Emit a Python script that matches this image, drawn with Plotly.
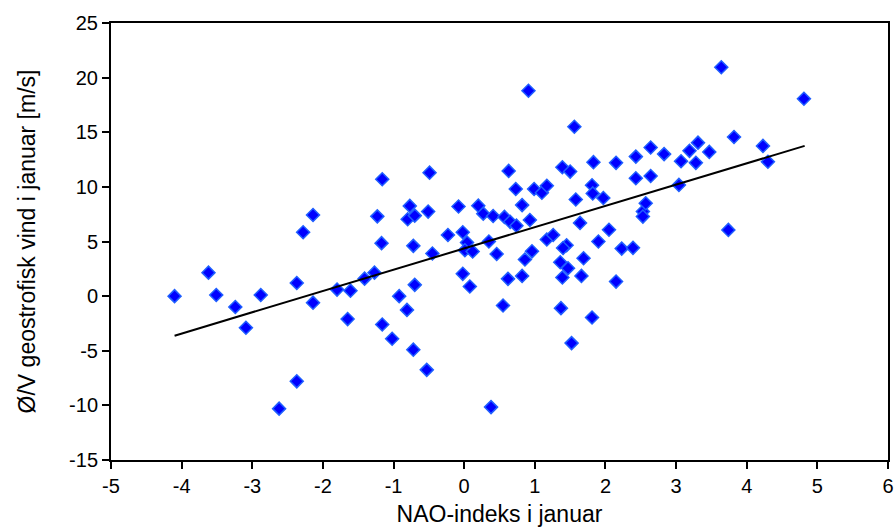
import plotly.graph_objects as go

# NAO index (x) and E/W geostrophic wind (y) for January
nao_x = [-4.10, -3.62, -3.51, -3.24, -3.09, -2.88, -2.62, -2.37, -2.37, -2.28,
         -2.14, -2.14, -1.80, -1.65, -1.61, -1.41, -1.27, -1.23, -1.17, -1.16,
         -1.16, -1.02, -0.92, -0.81, -0.77, -0.80, -0.70, -0.72, -0.70, -0.72,
         -0.51, -0.49, -0.53, -0.45, -0.23, -0.08, -0.02, 0.04, 0.01, 0.12,
         -0.02, 0.08, 0.20, 0.27, 0.41, 0.57, 0.65, 0.74, 0.35, 0.46,
         0.38, 0.55, 0.62, 0.63, 0.73, 0.82, 0.93, 0.82, 0.86, 0.96,
         0.91, 0.99, 1.10, 1.17, 1.17, 1.26, 1.39, 1.50, 1.56, 1.37,
         1.36, 1.47, 1.39, 1.45, 1.40, 1.52, 1.58, 1.64, 1.69, 1.66,
         1.81, 1.81, 1.82, 1.83, 1.97, 1.90, 2.05, 2.15, 2.15, 2.23,
         2.39, 2.43, 2.43, 2.53, 2.53, 2.57, 2.64, 2.64, 2.83, 3.04,
         3.07, 3.19, 3.28, 3.31, 3.47, 3.64, 3.74, 3.82, 4.23, 4.30,
         4.81]
wind_y = [0.0, 2.15, 0.1, -1.0, -2.9, 0.1, -10.3, 1.2, -7.8, 5.85,
          7.43, -0.6, 0.6, -2.1, 0.5, 1.6, 2.15, 7.3, 4.85, 10.7,
          -2.6, -3.9, 0.0, -1.26, 8.26, 7.04, 7.37, 4.6, 1.03, -4.9,
          7.74, 11.3, -6.75, 3.9, 5.6, 8.2, 5.85, 4.9, 4.2, 4.08,
          2.04, 0.88, 8.28, 7.55, 7.34, 7.25, 6.8, 6.45, 5.0, 3.85,
          -10.16, -0.86, 1.58, 11.46, 9.8, 8.33, 6.97, 1.85, 3.35, 4.1,
          18.8, 9.8, 9.47, 10.1, 5.18, 5.6, 11.8, 11.4, 15.5, -1.1,
          3.1, 2.55, 1.7, 4.66, 4.4, -4.3, 8.85, 6.7, 3.47, 1.85,
          -1.96, 10.15, 9.4, 12.26, 8.98, 5.0, 6.08, 12.2, 1.33, 4.35,
          4.42, 12.77, 10.79, 7.74, 7.28, 8.5, 13.6, 11.0, 13.0, 10.18,
          12.35, 13.3, 12.2, 14.05, 13.2, 20.95, 6.06, 14.57, 13.75, 12.3,
          18.07]

# Regression line end points
trend_x = [-4.10, 4.82]
trend_y = [-3.62, 13.75]

x_tick_vals = [-5, -4, -3, -2, -1, 0, 1, 2, 3, 4, 5, 6]
x_tick_labels = ["-5", "-4", "-3", "-2", "-1", "0", "1", "2", "3", "4", "5", "6"]
y_tick_vals = [-15, -10, -5, 0, 5, 10, 15, 20, 25]
y_tick_labels = ["-15", "-10", "-5", "0", "5", "10", "15", "20", "25"]

fig = go.Figure()
fig.add_trace(go.Scatter(
    x=nao_x, y=wind_y, mode="markers",
    marker=dict(symbol="diamond", size=10, color="#0000ff",
                line=dict(color="#1f5fff", width=1.5)),
    showlegend=False, hoverinfo="x+y"))
fig.add_trace(go.Scatter(
    x=trend_x, y=trend_y, mode="lines",
    line=dict(color="black", width=2), showlegend=False))

font_family = "Liberation Sans, Arial, Helvetica, sans-serif"
fig.update_layout(
    width=896, height=527,
    margin=dict(l=111, r=8, t=23, b=67),
    paper_bgcolor="white", plot_bgcolor="white",
    font=dict(family=font_family, color="black"),
)
fig.update_xaxes(
    range=[-5, 6], tickvals=x_tick_vals, ticktext=x_tick_labels,
    showgrid=False, zeroline=False, showline=True, linecolor="black",
    linewidth=2, mirror=True, ticks="outside", ticklen=7, tickwidth=1.5,
    tickcolor="black", tickfont=dict(size=20),
    title=dict(text="NAO-indeks i januar", font=dict(size=23), standoff=11),
    automargin=False)
fig.update_yaxes(
    range=[-15, 25], tickvals=y_tick_vals, ticktext=y_tick_labels,
    showgrid=False, zeroline=False, showline=True, linecolor="black",
    linewidth=2, mirror=True, ticks="outside", ticklen=7, tickwidth=1.5,
    tickcolor="black", tickfont=dict(size=20),
    title=dict(text="Ø/V geostrofisk vind i januar [m/s]", font=dict(size=23), standoff=27),
    automargin=False)

fig.write_html("out.html")
